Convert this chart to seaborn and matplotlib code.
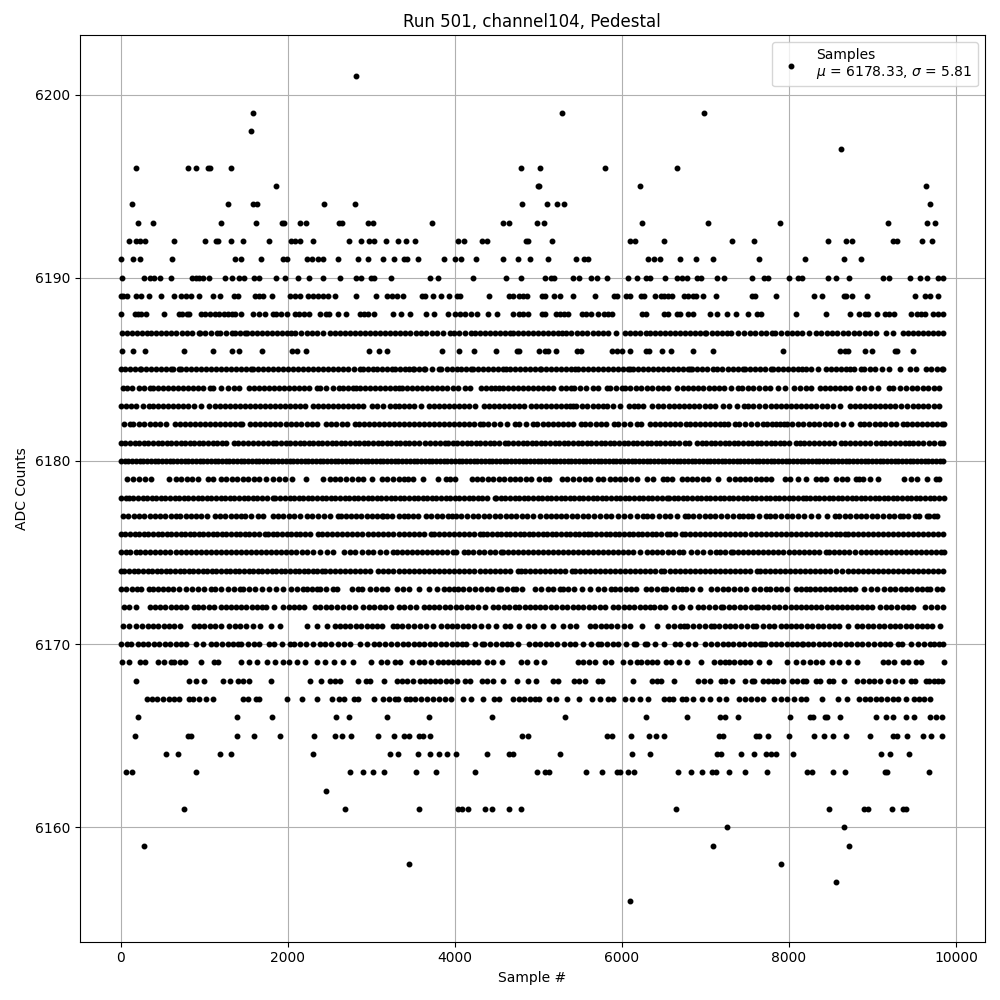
import pandas as pd
import seaborn as sns
import matplotlib.pyplot as plt

# sample numbers for each ADC level
adc_6201 = [2816]
adc_6199 = [1580, 5280, 6984]
adc_6198 = [1556]
adc_6197 = [8628]
adc_6196 = [176, 800, 896, 1040, 1068, 1316, 4796, 5016, 5796, 6660]
adc_6195 = [1856, 4992, 5004, 6216, 9636]
adc_6194 = [140, 1280, 1588, 1628, 2432, 2804, 4808, 5100, 5220, 5304, 9684]
adc_6193 = [200, 380, 1196, 1616, 1932, 1952, 2144, 2216, 2612, 2652, 2960, 3024, 3728, 4580, 4644, 4980, 5064, 6240, 7032, 7896, 9192, 9648, 9744]
adc_6192 = [104, 184, 228, 288, 632, 1008, 1136, 1168, 1316, 1460, 1772, 2040, 2080, 2144, 2300, 2732, 2876, 2972, 3028, 3176, 3320, 3416, 3524, 4040, 4112, 4324, 4380, 4848, 4880, 5160, 6096, 6160, 6504, 7320, 7584, 8472, 8688, 8760, 9252, 9300, 9588, 9708]
adc_6191 = [8, 152, 224, 608, 1372, 1440, 1676, 1940, 1988, 2228, 2284, 2360, 2420, 2600, 2840, 2960, 3136, 3272, 3392, 3428, 3560, 3868, 3996, 4076, 4256, 4580, 4760, 4904, 5112, 5448, 5544, 5592, 6312, 6384, 6456, 6696, 6888, 7092, 7644, 8196, 8664, 8868]
adc_6190 = [20, 272, 352, 392, 468, 596, 848, 900, 932, 980, 1052, 1244, 1328, 1412, 1472, 1592, 1652, 1856, 1964, 2120, 2252, 2420, 2624, 2820, 2880, 2996, 3036, 3236, 3700, 3796, 4220, 4616, 4796, 5076, 5148, 5192, 5412, 5484, 5628, 5700, 5820, 6072, 6180, 6288, 6336, 6516, 6660, 6720, 6780, 6900, 6948, 7140, 7224, 7560, 7704, 7752, 8004, 8112, 8160, 8472, 8568, 8724, 9132, 9204, 9444, 9564, 9648, 9780, 9840]
adc_6189 = [0, 28, 72, 180, 240, 332, 476, 632, 716, 776, 836, 932, 1100, 1184, 1352, 1400, 1604, 1652, 1700, 1808, 2024, 2084, 2140, 2240, 2300, 2360, 2420, 2480, 2564, 2820, 3056, 3188, 3248, 3308, 3380, 3608, 3640, 3740, 3836, 3932, 4028, 4060, 4412, 4652, 4700, 4772, 4820, 4868, 5040, 5076, 5184, 5256, 5412, 5676, 5904, 5940, 6048, 6096, 6228, 6264, 6396, 6468, 6504, 6552, 6600, 6744, 6792, 6852, 6888, 6972, 7128, 7560, 7596, 7848, 8304, 8400, 8664, 8688, 8760, 8940, 9504, 9624, 9684, 9780]
adc_6188 = [8, 164, 200, 236, 300, 520, 692, 728, 788, 812, 956, 1004, 1064, 1124, 1172, 1232, 1280, 1328, 1364, 1436, 1580, 1652, 1724, 1820, 1856, 1916, 1988, 2084, 2132, 2192, 2252, 2384, 2456, 2492, 2600, 2692, 2864, 2912, 2960, 3032, 3260, 3356, 3464, 3656, 3752, 3912, 4004, 4064, 4124, 4196, 4268, 4400, 4508, 4700, 4772, 4820, 4880, 5040, 5076, 5208, 5256, 5304, 5352, 5520, 5568, 5628, 5712, 5784, 5832, 5880, 6240, 6288, 6504, 6552, 6660, 6696, 6792, 6852, 7056, 7140, 7260, 7368, 7512, 7620, 7668, 8088, 8448, 8736, 8844, 8916, 8952, 9060, 9156, 9204, 9264, 9456, 9528, 9576, 9624, 9720, 9780, 9840]
adc_6187 = [12, 72, 130, 188, 250, 308, 365, 425, 482, 540, 600, 660, 732, 788, 848, 932, 948, 1010, 1075, 1148, 1188, 1260, 1332, 1372, 1430, 1484, 1516, 1575, 1634, 1692, 1750, 1810, 1868, 1926, 1985, 2040, 2080, 2160, 2225, 2290, 2355, 2420, 2508, 2566, 2625, 2684, 2743, 2802, 2860, 2920, 2980, 3040, 3100, 3160, 3220, 3280, 3340, 3400, 3460, 3532, 3595, 3660, 3725, 3790, 3860, 3940, 3988, 4055, 4120, 4188, 4240, 4300, 4360, 4420, 4480, 4540, 4600, 4660, 4692, 4750, 4810, 4870, 4930, 4990, 5050, 5110, 5170, 5230, 5284, 5332, 5395, 5458, 5520, 5585, 5650, 5710, 5772, 5832, 5924, 6032, 6092, 6152, 6212, 6292, 6340, 6400, 6460, 6520, 6580, 6640, 6700, 6760, 6820, 6880, 6940, 6992, 7012, 7075, 7138, 7200, 7260, 7312, 7385, 7460, 7532, 7592, 7660, 7725, 7792, 7832, 7905, 7980, 8032, 8092, 8152, 8235, 8320, 8384, 8450, 8515, 8580, 8644, 8712, 8780, 8845, 8910, 8975, 9040, 9164, 9244, 9364, 9425, 9485, 9545, 9605, 9665, 9725, 9785, 9840]
adc_6186 = [20, 152, 284, 752, 1100, 1328, 1420, 1692, 2044, 2108, 2212, 2972, 3092, 3188, 3848, 4052, 4232, 4488, 4740, 4772, 5004, 5076, 5112, 5208, 5460, 5508, 5880, 5940, 6000, 6096, 6288, 6324, 6480, 6588, 6852, 7092, 7932, 8616, 8676, 8712, 8916, 9000, 9276, 9300, 9480]
adc_6185 = [0, 56, 112, 168, 224, 244, 304, 364, 424, 484, 544, 604, 624, 696, 724, 784, 844, 904, 964, 1024, 1084, 1144, 1204, 1264, 1324, 1384, 1444, 1504, 1564, 1584, 1644, 1704, 1764, 1824, 1884, 1944, 2004, 2064, 2124, 2184, 2244, 2304, 2364, 2424, 2484, 2544, 2604, 2664, 2724, 2794, 2864, 2896, 2955, 3014, 3073, 3132, 3190, 3244, 3284, 3344, 3400, 3450, 3496, 3516, 3572, 3628, 3644, 3725, 3808, 3836, 3900, 3964, 4028, 4076, 4136, 4196, 4220, 4280, 4340, 4400, 4460, 4520, 4580, 4616, 4656, 4715, 4775, 4835, 4895, 4955, 5016, 5036, 5095, 5155, 5215, 5275, 5335, 5395, 5436, 5476, 5535, 5595, 5655, 5715, 5775, 5835, 5895, 5955, 6015, 6075, 6096, 6136, 6195, 6255, 6315, 6375, 6435, 6495, 6555, 6615, 6675, 6735, 6795, 6816, 6840, 6900, 6960, 7020, 7088, 7136, 7200, 7265, 7330, 7395, 7456, 7480, 7528, 7590, 7650, 7715, 7788, 7808, 7870, 7930, 7990, 8050, 8110, 8160, 8200, 8268, 8348, 8440, 8500, 8560, 8620, 8680, 8736, 8776, 8868, 8896, 8968, 9032, 9120, 9200, 9328, 9448, 9520, 9636, 9696, 9768, 9830, 9850]
adc_6184 = [24, 80, 136, 216, 276, 352, 384, 445, 505, 565, 625, 685, 745, 805, 865, 925, 985, 1064, 1104, 1195, 1284, 1356, 1416, 1536, 1596, 1656, 1716, 1776, 1836, 1896, 1956, 2016, 2076, 2136, 2196, 2256, 2344, 2384, 2460, 2540, 2616, 2656, 2720, 2784, 2816, 2864, 2925, 2985, 3045, 3105, 3165, 3225, 3285, 3336, 3364, 3428, 3484, 3545, 3605, 3665, 3725, 3785, 3845, 3905, 3975, 4036, 4116, 4176, 4308, 4370, 4430, 4476, 4524, 4576, 4636, 4696, 4756, 4816, 4876, 4936, 4996, 5056, 5116, 5176, 5276, 5336, 5396, 5428, 5500, 5575, 5656, 5716, 5816, 5856, 5925, 5996, 6036, 6100, 6165, 6230, 6295, 6360, 6430, 6496, 6556, 6656, 6736, 6790, 6848, 6908, 6975, 7040, 7105, 7168, 7228, 7310, 7388, 7436, 7508, 7575, 7640, 7708, 7768, 7868, 7948, 8056, 8130, 8208, 8268, 8368, 8430, 8490, 8550, 8610, 8670, 8730, 8828, 8896, 8985, 9068, 9200, 9248, 9328, 9400, 9468, 9535, 9600, 9670, 9740, 9800]
adc_6183 = [0, 60, 120, 180, 260, 336, 384, 445, 505, 565, 625, 685, 745, 805, 880, 964, 1056, 1124, 1185, 1245, 1305, 1365, 1425, 1485, 1545, 1605, 1665, 1725, 1785, 1845, 1905, 1965, 2025, 2085, 2145, 2205, 2304, 2364, 2425, 2485, 2545, 2605, 2665, 2725, 2785, 2845, 2905, 3004, 3064, 3145, 3224, 3284, 3336, 3390, 3450, 3510, 3596, 3696, 3755, 3815, 3875, 3935, 3995, 4055, 4115, 4175, 4236, 4348, 4408, 4468, 4528, 4588, 4648, 4708, 4764, 4828, 4916, 4976, 5036, 5096, 5156, 5216, 5276, 5336, 5376, 5416, 5456, 5520, 5585, 5650, 5715, 5776, 5824, 5896, 5976, 6084, 6140, 6196, 6256, 6364, 6430, 6496, 6560, 6620, 6680, 6740, 6800, 6860, 6925, 6990, 7055, 7120, 7208, 7288, 7375, 7468, 7508, 7575, 7640, 7710, 7788, 7848, 7910, 7970, 8030, 8090, 8150, 8210, 8270, 8330, 8395, 8460, 8528, 8616, 8728, 8790, 8850, 8910, 8970, 9030, 9090, 9148, 9208, 9275, 9345, 9415, 9488, 9548, 9610, 9670, 9740, 9800]
adc_6182 = [44, 112, 152, 215, 280, 345, 410, 475, 540, 644, 704, 765, 825, 885, 945, 1005, 1065, 1125, 1185, 1245, 1305, 1365, 1424, 1456, 1552, 1604, 1665, 1725, 1785, 1845, 1905, 1984, 2032, 2095, 2160, 2225, 2290, 2355, 2456, 2512, 2580, 2644, 2712, 2804, 2856, 2915, 2975, 3035, 3095, 3155, 3215, 3275, 3336, 3395, 3455, 3515, 3575, 3635, 3695, 3755, 3815, 3875, 3935, 3995, 4055, 4115, 4175, 4235, 4296, 4336, 4400, 4468, 4536, 4625, 4716, 4764, 4850, 4936, 4988, 5050, 5110, 5170, 5230, 5290, 5350, 5410, 5508, 5556, 5620, 5685, 5750, 5815, 5908, 5948, 6020, 6095, 6176, 6228, 6336, 6396, 6455, 6515, 6575, 6635, 6695, 6768, 6816, 6875, 6935, 6995, 7055, 7115, 7175, 7228, 7276, 7360, 7400, 7470, 7545, 7615, 7688, 7736, 7800, 7848, 7888, 7936, 7976, 8040, 8105, 8170, 8235, 8300, 8365, 8430, 8495, 8560, 8648, 8748, 8848, 8896, 8960, 9025, 9090, 9155, 9220, 9285, 9368, 9408, 9470, 9530, 9590, 9650, 9710, 9770, 9830, 9852]
adc_6181 = [0, 55, 110, 165, 220, 275, 330, 385, 440, 495, 550, 605, 660, 715, 770, 825, 880, 935, 990, 1045, 1100, 1155, 1210, 1265, 1352, 1404, 1465, 1525, 1585, 1645, 1705, 1765, 1824, 1864, 1920, 1975, 2030, 2085, 2140, 2195, 2250, 2305, 2360, 2415, 2470, 2525, 2580, 2635, 2690, 2745, 2800, 2855, 2910, 2965, 3020, 3075, 3130, 3185, 3240, 3295, 3344, 3400, 3456, 3516, 3576, 3640, 3700, 3760, 3820, 3876, 3916, 3975, 4030, 4085, 4140, 4195, 4250, 4305, 4360, 4415, 4470, 4525, 4596, 4636, 4696, 4755, 4810, 4865, 4920, 4975, 5030, 5085, 5140, 5195, 5250, 5305, 5360, 5415, 5470, 5525, 5580, 5635, 5690, 5745, 5800, 5855, 5910, 5965, 6020, 6075, 6130, 6185, 6240, 6296, 6348, 6405, 6460, 6515, 6570, 6625, 6680, 6756, 6808, 6896, 6955, 7010, 7065, 7120, 7175, 7230, 7285, 7340, 7395, 7450, 7505, 7560, 7615, 7670, 7725, 7780, 7835, 7890, 7945, 8000, 8088, 8128, 8176, 8235, 8295, 8355, 8415, 8475, 8535, 8628, 8668, 8730, 8790, 8850, 8910, 8975, 9048, 9100, 9148, 9210, 9270, 9330, 9385, 9440, 9480, 9545, 9610, 9675, 9740, 9805, 9850]
adc_6180 = [0, 45, 90, 135, 180, 225, 270, 315, 360, 405, 450, 495, 540, 585, 630, 675, 720, 765, 810, 855, 900, 945, 990, 1035, 1080, 1125, 1164, 1210, 1255, 1300, 1345, 1390, 1435, 1480, 1525, 1570, 1615, 1660, 1705, 1750, 1795, 1840, 1885, 1930, 1975, 2020, 2065, 2110, 2155, 2200, 2245, 2290, 2335, 2380, 2425, 2470, 2515, 2560, 2605, 2650, 2695, 2740, 2785, 2830, 2875, 2920, 2965, 3010, 3055, 3100, 3145, 3190, 3235, 3280, 3325, 3370, 3415, 3460, 3505, 3550, 3595, 3640, 3685, 3730, 3775, 3820, 3865, 3910, 3955, 4000, 4045, 4090, 4135, 4180, 4225, 4270, 4315, 4360, 4405, 4450, 4495, 4540, 4585, 4630, 4675, 4720, 4765, 4810, 4855, 4900, 4945, 4990, 5035, 5080, 5125, 5170, 5215, 5260, 5305, 5350, 5395, 5440, 5485, 5530, 5575, 5620, 5665, 5710, 5755, 5800, 5845, 5890, 5935, 5980, 6025, 6070, 6115, 6160, 6205, 6250, 6295, 6340, 6385, 6430, 6475, 6520, 6565, 6610, 6655, 6700, 6745, 6790, 6835, 6880, 6925, 6970, 7015, 7060, 7105, 7150, 7195, 7240, 7285, 7330, 7375, 7420, 7465, 7510, 7555, 7600, 7645, 7690, 7735, 7780, 7825, 7870, 7915, 7960, 8005, 8050, 8095, 8140, 8185, 8230, 8275, 8320, 8365, 8410, 8455, 8500, 8545, 8590, 8635, 8680, 8725, 8770, 8815, 8860, 8905, 8950, 8995, 9040, 9085, 9130, 9175, 9220, 9265, 9310, 9355, 9400, 9445, 9490, 9535, 9580, 9625, 9670, 9715, 9760, 9805, 9850]
adc_6179 = [72, 152, 216, 284, 364, 576, 664, 724, 790, 855, 924, 1044, 1104, 1204, 1264, 1330, 1395, 1460, 1525, 1590, 1660, 1736, 1824, 1895, 1970, 2044, 2212, 2424, 2504, 2565, 2630, 2700, 2770, 2840, 2904, 3012, 3124, 3190, 3260, 3336, 3388, 3440, 3496, 3616, 3796, 3896, 3936, 4004, 4204, 4265, 4330, 4395, 4460, 4525, 4590, 4656, 4724, 4785, 4850, 4915, 5005, 5076, 5128, 5288, 5348, 5416, 5490, 5556, 5616, 5716, 5776, 5856, 5916, 5976, 6040, 6105, 6176, 6296, 6376, 6488, 6536, 6604, 6724, 6775, 6840, 6905, 6970, 7035, 7148, 7288, 7350, 7415, 7475, 7536, 7608, 7670, 7728, 7788, 7956, 8008, 8105, 8208, 8328, 8388, 8448, 8568, 8630, 8695, 8800, 8840, 8888, 8975, 9068, 9376, 9456, 9536, 9656, 9760, 9800]
adc_6178 = [0, 64, 96, 150, 205, 260, 315, 370, 425, 480, 535, 590, 645, 700, 755, 810, 865, 920, 975, 1030, 1085, 1140, 1195, 1250, 1305, 1360, 1415, 1470, 1525, 1580, 1635, 1690, 1745, 1824, 1852, 1910, 1965, 2020, 2075, 2130, 2185, 2240, 2295, 2350, 2405, 2460, 2515, 2570, 2625, 2680, 2735, 2790, 2845, 2900, 2955, 3010, 3065, 3120, 3175, 3230, 3285, 3340, 3395, 3450, 3505, 3560, 3615, 3670, 3725, 3780, 3835, 3890, 3945, 4000, 4055, 4110, 4165, 4220, 4275, 4330, 4385, 4476, 4496, 4550, 4605, 4660, 4715, 4770, 4825, 4880, 4935, 4990, 5045, 5100, 5155, 5210, 5265, 5320, 5375, 5430, 5485, 5540, 5595, 5650, 5705, 5760, 5815, 5870, 5925, 5980, 6035, 6090, 6145, 6200, 6255, 6310, 6365, 6420, 6475, 6536, 6564, 6620, 6675, 6730, 6785, 6840, 6895, 6950, 7005, 7060, 7115, 7170, 7225, 7280, 7335, 7390, 7445, 7500, 7555, 7610, 7665, 7720, 7775, 7830, 7885, 7940, 7995, 8050, 8105, 8168, 8200, 8255, 8310, 8365, 8420, 8475, 8530, 8585, 8640, 8695, 8750, 8805, 8860, 8915, 8970, 9025, 9080, 9135, 9190, 9245, 9300, 9355, 9410, 9465, 9520, 9575, 9630, 9685, 9740, 9795, 9855]
adc_6177 = [32, 92, 155, 215, 280, 344, 410, 470, 530, 600, 664, 712, 775, 840, 900, 964, 1032, 1124, 1184, 1250, 1315, 1380, 1444, 1484, 1560, 1644, 1704, 1824, 1885, 1945, 2010, 2070, 2140, 2224, 2292, 2360, 2430, 2510, 2596, 2632, 2695, 2755, 2820, 2880, 2945, 3005, 3070, 3124, 3144, 3184, 3250, 3336, 3396, 3436, 3495, 3556, 3656, 3720, 3785, 3850, 3916, 3964, 4016, 4076, 4148, 4215, 4280, 4348, 4408, 4484, 4545, 4610, 4670, 4735, 4800, 4865, 4936, 5024, 5090, 5155, 5215, 5276, 5336, 5400, 5465, 5530, 5600, 5670, 5736, 5804, 5870, 5950, 6020, 6096, 6176, 6256, 6296, 6365, 6440, 6516, 6576, 6656, 6756, 6788, 6856, 6925, 6990, 7055, 7120, 7188, 7256, 7328, 7408, 7456, 7508, 7560, 7640, 7728, 7768, 7835, 7905, 7975, 8040, 8110, 8176, 8264, 8348, 8450, 8548, 8600, 8670, 8735, 8800, 8868, 8928, 8995, 9060, 9130, 9195, 9260, 9328, 9360, 9430, 9508, 9560, 9648, 9680, 9735, 9770]
adc_6176 = [0, 55, 110, 165, 220, 275, 330, 385, 440, 495, 550, 605, 660, 715, 770, 825, 880, 935, 990, 1045, 1100, 1155, 1210, 1265, 1320, 1375, 1430, 1485, 1540, 1595, 1650, 1724, 1764, 1820, 1875, 1930, 1985, 2040, 2095, 2150, 2205, 2260, 2364, 2404, 2465, 2525, 2585, 2645, 2705, 2765, 2825, 2892, 2964, 3024, 3085, 3145, 3204, 3256, 3336, 3395, 3455, 3515, 3575, 3635, 3716, 3756, 3816, 3868, 3925, 3985, 4045, 4105, 4165, 4225, 4296, 4336, 4390, 4445, 4500, 4555, 4610, 4665, 4720, 4775, 4830, 4885, 4940, 4995, 5050, 5105, 5160, 5215, 5270, 5325, 5380, 5435, 5490, 5545, 5596, 5636, 5695, 5750, 5805, 5860, 5915, 5970, 6025, 6080, 6135, 6190, 6245, 6300, 6355, 6410, 6465, 6536, 6576, 6640, 6724, 6760, 6820, 6880, 6940, 7000, 7060, 7120, 7180, 7240, 7300, 7360, 7420, 7480, 7540, 7600, 7660, 7720, 7780, 7840, 7900, 7960, 8020, 8080, 8140, 8200, 8260, 8320, 8380, 8440, 8500, 8560, 8610, 8668, 8708, 8765, 8825, 8885, 8945, 9005, 9065, 9125, 9185, 9245, 9305, 9365, 9425, 9485, 9545, 9605, 9665, 9725, 9785, 9850]
adc_6175 = [0, 60, 112, 176, 235, 295, 355, 415, 475, 535, 595, 655, 715, 775, 835, 895, 955, 1015, 1075, 1135, 1195, 1255, 1315, 1375, 1435, 1495, 1555, 1615, 1675, 1735, 1795, 1855, 1915, 1984, 2032, 2095, 2164, 2232, 2300, 2385, 2465, 2544, 2672, 2740, 2810, 2885, 2964, 3024, 3104, 3172, 3264, 3304, 3370, 3430, 3490, 3550, 3610, 3670, 3730, 3790, 3850, 3910, 3976, 4016, 4108, 4156, 4220, 4285, 4350, 4415, 4480, 4548, 4576, 4635, 4695, 4755, 4815, 4875, 4935, 4995, 5055, 5115, 5175, 5235, 5295, 5355, 5415, 5475, 5535, 5595, 5655, 5715, 5775, 5835, 5895, 5955, 6015, 6076, 6136, 6215, 6296, 6356, 6420, 6485, 6550, 6615, 6680, 6728, 6828, 6900, 6975, 7050, 7128, 7176, 7240, 7308, 7336, 7395, 7455, 7515, 7575, 7635, 7695, 7755, 7815, 7875, 7935, 7995, 8055, 8115, 8175, 8235, 8295, 8355, 8448, 8480, 8540, 8600, 8660, 8720, 8790, 8868, 8920, 8980, 9040, 9100, 9160, 9220, 9280, 9340, 9400, 9460, 9520, 9580, 9640, 9700, 9760, 9820, 9855]
adc_6174 = [0, 44, 100, 155, 210, 265, 320, 375, 430, 485, 540, 595, 650, 705, 760, 815, 870, 925, 980, 1035, 1090, 1145, 1200, 1255, 1310, 1365, 1420, 1475, 1530, 1585, 1640, 1695, 1750, 1805, 1860, 1915, 1970, 2025, 2080, 2135, 2190, 2245, 2300, 2355, 2404, 2444, 2505, 2565, 2625, 2685, 2745, 2805, 2865, 2925, 2985, 3084, 3136, 3200, 3265, 3336, 3395, 3455, 3515, 3575, 3635, 3695, 3755, 3815, 3875, 3935, 3995, 4055, 4115, 4175, 4235, 4295, 4355, 4415, 4475, 4535, 4595, 4655, 4756, 4796, 4836, 4895, 4955, 5015, 5075, 5135, 5195, 5255, 5315, 5408, 5436, 5495, 5555, 5615, 5675, 5735, 5795, 5855, 5915, 5975, 6035, 6095, 6155, 6215, 6275, 6335, 6400, 6468, 6508, 6570, 6630, 6690, 6756, 6810, 6870, 6930, 6990, 7050, 7110, 7170, 7230, 7290, 7350, 7410, 7470, 7530, 7616, 7648, 7710, 7770, 7830, 7890, 7950, 8010, 8070, 8130, 8190, 8250, 8310, 8370, 8430, 8490, 8568, 8636, 8708, 8765, 8825, 8885, 8945, 9005, 9065, 9125, 9185, 9245, 9305, 9365, 9425, 9485, 9545, 9605, 9665, 9725, 9785, 9845]
adc_6173 = [0, 65, 130, 192, 244, 336, 384, 445, 504, 564, 630, 700, 784, 856, 925, 1000, 1076, 1124, 1200, 1280, 1350, 1424, 1464, 1530, 1610, 1696, 1776, 1860, 1944, 2032, 2110, 2184, 2232, 2290, 2344, 2384, 2460, 2536, 2584, 2764, 2844, 2892, 2984, 3060, 3125, 3184, 3308, 3380, 3456, 3576, 3688, 3788, 3868, 3930, 3988, 4036, 4100, 4170, 4236, 4308, 4380, 4450, 4524, 4556, 4625, 4696, 4736, 4804, 4956, 5036, 5110, 5180, 5256, 5296, 5360, 5428, 5524, 5616, 5716, 5788, 5872, 5912, 5980, 6045, 6108, 6164, 6284, 6350, 6420, 6496, 6524, 6595, 6668, 6716, 6768, 6840, 6940, 7068, 7135, 7205, 7275, 7345, 7415, 7488, 7576, 7650, 7728, 7768, 7840, 7908, 7980, 8088, 8150, 8208, 8248, 8310, 8370, 8430, 8490, 8550, 8610, 8670, 8730, 8790, 8896, 8988, 9060, 9135, 9208, 9268, 9336, 9400, 9465, 9530, 9590, 9648, 9688, 9770, 9830]
adc_6172 = [44, 104, 184, 344, 405, 470, 535, 600, 660, 724, 784, 872, 924, 990, 1056, 1112, 1204, 1264, 1325, 1385, 1445, 1505, 1565, 1630, 1696, 1736, 1832, 1944, 2010, 2075, 2135, 2192, 2324, 2390, 2455, 2520, 2590, 2660, 2730, 2804, 2904, 2970, 3035, 3100, 3165, 3230, 3336, 3390, 3465, 3536, 3628, 3690, 3750, 3815, 3880, 3945, 4010, 4075, 4140, 4205, 4276, 4356, 4456, 4520, 4585, 4650, 4716, 4764, 4836, 4896, 4960, 5020, 5085, 5150, 5215, 5280, 5345, 5410, 5475, 5540, 5605, 5670, 5735, 5796, 5896, 5956, 6020, 6085, 6150, 6215, 6280, 6340, 6388, 6456, 6516, 6628, 6708, 6720, 6816, 6908, 6975, 7045, 7115, 7188, 7216, 7280, 7345, 7410, 7475, 7540, 7600, 7628, 7690, 7755, 7820, 7885, 7948, 8028, 8090, 8150, 8210, 8270, 8330, 8390, 8450, 8510, 8570, 8630, 8690, 8750, 8810, 8870, 8930, 8990, 9088, 9168, 9228, 9295, 9360, 9425, 9488, 9628, 9700, 9775, 9850]
adc_6171 = [24, 104, 184, 250, 320, 385, 450, 515, 580, 640, 704, 872, 935, 1000, 1065, 1130, 1195, 1296, 1364, 1430, 1500, 1580, 1664, 1796, 1904, 2224, 2344, 2464, 2564, 2624, 2684, 2750, 2815, 2880, 2945, 3010, 3064, 3124, 3256, 3308, 3364, 3444, 3510, 3580, 3656, 3736, 3836, 3900, 3965, 4030, 4095, 4160, 4230, 4308, 4396, 4495, 4596, 4664, 4764, 4876, 4948, 5056, 5176, 5296, 5375, 5456, 5616, 5680, 5745, 5810, 5875, 5940, 6020, 6096, 6244, 6416, 6556, 6628, 6690, 6748, 6780, 6850, 6925, 6995, 7068, 7100, 7165, 7230, 7295, 7360, 7430, 7500, 7568, 7608, 7685, 7760, 7820, 7908, 7970, 8030, 8090, 8150, 8215, 8280, 8345, 8410, 8475, 8540, 8600, 8708, 8816, 8880, 8945, 9010, 9075, 9140, 9205, 9270, 9335, 9400, 9465, 9530, 9595, 9650, 9708, 9808]
adc_6170 = [0, 80, 128, 200, 265, 330, 395, 460, 525, 590, 655, 720, 780, 900, 990, 1080, 1140, 1210, 1280, 1345, 1400, 1440, 1520, 1600, 1660, 1772, 1840, 1930, 2020, 2068, 2140, 2220, 2300, 2380, 2450, 2520, 2600, 2672, 2748, 2868, 2950, 3028, 3092, 3165, 3235, 3310, 3380, 3440, 3505, 3570, 3635, 3700, 3765, 3830, 3895, 3960, 4025, 4080, 4128, 4240, 4320, 4348, 4420, 4490, 4560, 4628, 4668, 4760, 4892, 4960, 5025, 5090, 5155, 5225, 5312, 5380, 5444, 5540, 5625, 5712, 5752, 5820, 5892, 5952, 6045, 6140, 6172, 6272, 6300, 6392, 6504, 6636, 6700, 6790, 6880, 7000, 7072, 7140, 7205, 7270, 7335, 7400, 7465, 7530, 7590, 7652, 7672, 7712, 7780, 7845, 7910, 7975, 8040, 8100, 8152, 8164, 8225, 8290, 8355, 8420, 8485, 8550, 8615, 8680, 8745, 8812, 8880, 8952, 9020, 9085, 9150, 9215, 9312, 9352, 9460, 9540, 9615, 9692, 9732, 9800, 9845]
adc_6169 = [12, 100, 228, 292, 440, 520, 600, 640, 705, 772, 960, 1120, 1160, 1436, 1540, 1628, 1748, 1848, 1948, 2012, 2108, 2204, 2348, 2440, 2550, 2660, 2780, 2996, 3120, 3188, 3280, 3340, 3488, 3572, 3628, 3720, 3800, 3860, 3920, 3980, 4040, 4100, 4160, 4220, 4280, 4380, 4460, 4560, 4788, 4860, 4972, 5064, 5472, 5540, 5605, 5672, 5800, 5872, 6012, 6095, 6180, 6232, 6295, 6360, 6425, 6532, 6592, 6685, 6780, 6952, 7100, 7172, 7232, 7284, 7345, 7410, 7475, 7532, 7644, 7764, 7972, 8080, 8172, 8250, 8324, 8392, 8512, 8604, 8710, 8812, 9124, 9192, 9264, 9364, 9424, 9524, 9580, 9855]
adc_6168 = [176, 812, 900, 992, 1220, 1308, 1400, 1460, 1532, 1796, 2264, 2396, 2500, 2560, 2620, 2840, 2940, 2988, 3152, 3308, 3370, 3430, 3500, 3580, 3640, 3700, 3760, 3825, 3890, 3955, 4020, 4120, 4180, 4328, 4380, 4452, 4580, 4748, 4872, 4972, 5172, 5232, 5432, 5484, 5556, 5712, 5764, 6132, 6364, 6420, 6472, 6624, 6912, 6980, 7060, 7192, 7232, 7320, 7472, 7552, 7580, 7692, 7750, 7812, 7860, 7932, 8032, 8092, 8172, 8204, 8324, 8372, 8484, 8532, 8664, 8820, 8890, 8955, 9020, 9092, 9192, 9270, 9352, 9460, 9512, 9640, 9672, 9732, 9785, 9832]
adc_6167 = [308, 370, 435, 500, 580, 640, 700, 812, 860, 932, 1015, 1100, 1460, 1520, 1620, 1660, 1988, 2168, 2348, 2528, 2612, 2672, 2788, 2840, 3028, 3140, 3210, 3280, 3320, 3412, 3460, 3528, 3595, 3665, 3735, 3808, 3880, 3948, 4100, 4188, 4340, 4472, 4532, 4700, 4765, 4830, 4895, 4960, 5012, 5124, 5212, 5340, 5484, 5640, 5740, 5832, 5892, 6040, 6120, 6216, 6312, 6504, 6560, 6612, 6720, 6772, 6852, 6964, 7060, 7164, 7252, 7404, 7475, 7545, 7620, 7692, 7820, 7900, 7975, 8060, 8140, 8208, 8392, 8592, 8692, 8844, 8910, 8975, 9040, 9105, 9180, 9252, 9312, 9400, 9492, 9552, 9612, 9684]
adc_6166 = [200, 1388, 1808, 2576, 2732, 3188, 3692, 4448, 5316, 6288, 6780, 7176, 7232, 7392, 8016, 8252, 8284, 8432, 8460, 8616, 9048, 9168, 9252, 9400, 9492, 9684, 9756, 9828]
adc_6165 = [164, 800, 836, 1388, 1592, 1904, 2312, 2564, 2648, 2756, 3080, 3272, 3392, 3452, 3572, 3620, 3704, 4808, 4880, 5820, 5880, 6108, 6324, 6408, 6504, 7164, 7212, 7608, 7644, 7752, 8004, 8304, 8420, 8532, 8688, 8976, 9252, 9300, 9408, 9600, 9696, 9828]
adc_6164 = [536, 680, 1184, 1316, 2300, 3224, 3320, 3560, 3704, 3808, 3908, 4016, 4388, 4652, 4692, 5256, 6120, 6336, 7140, 7188, 7428, 7584, 7728, 7788, 7848, 8052, 9108, 9216, 9432]
adc_6163 = [68, 140, 896, 2744, 2900, 3020, 3152, 3536, 3776, 4244, 4980, 5076, 5124, 5568, 5760, 5940, 5972, 6072, 6144, 6672, 6828, 6960, 7080, 7128, 7284, 7476, 7740, 8220, 8280, 8532, 8676, 9156, 9180, 9672]
adc_6162 = [2456]
adc_6161 = [752, 2684, 3572, 4040, 4088, 4160, 4364, 4448, 4652, 4796, 6648, 8484, 8904, 8952, 9240, 9360, 9396]
adc_6160 = [7260, 8664]
adc_6159 = [272, 7092, 8724]
adc_6158 = [3452, 7908]
adc_6157 = [8568]
adc_6156 = [6096]

levels = {
    6201: adc_6201, 6199: adc_6199, 6198: adc_6198, 6197: adc_6197, 6196: adc_6196,
    6195: adc_6195, 6194: adc_6194, 6193: adc_6193, 6192: adc_6192, 6191: adc_6191,
    6190: adc_6190, 6189: adc_6189, 6188: adc_6188, 6187: adc_6187, 6186: adc_6186,
    6185: adc_6185, 6184: adc_6184, 6183: adc_6183, 6182: adc_6182, 6181: adc_6181,
    6180: adc_6180, 6179: adc_6179, 6178: adc_6178, 6177: adc_6177, 6176: adc_6176,
    6175: adc_6175, 6174: adc_6174, 6173: adc_6173, 6172: adc_6172, 6171: adc_6171,
    6170: adc_6170, 6169: adc_6169, 6168: adc_6168, 6167: adc_6167, 6166: adc_6166,
    6165: adc_6165, 6164: adc_6164, 6163: adc_6163, 6162: adc_6162, 6161: adc_6161,
    6160: adc_6160, 6159: adc_6159, 6158: adc_6158, 6157: adc_6157, 6156: adc_6156,
}

df = pd.DataFrame(
    [(s, adc) for adc, samples in levels.items() for s in samples],
    columns=["sample", "adc"],
)

fig, ax = plt.subplots(figsize=(10, 10))
sns.scatterplot(
    data=df, x="sample", y="adc", ax=ax, color="black", marker=".", s=42,
    edgecolor="black", linewidth=1, zorder=3,
    label="Samples\n$\\mu$ = 6178.33, $\\sigma$ = 5.81",
)
ax.set_xlabel("Sample #")
ax.set_ylabel("ADC Counts")
ax.set_title("Run 501, channel104, Pedestal")
ax.grid(True)
ax.set_axisbelow(True)
ax.legend(loc="upper right")
fig.tight_layout()
fig.subplots_adjust(top=0.965)
fig.savefig("out.png", dpi=100)
